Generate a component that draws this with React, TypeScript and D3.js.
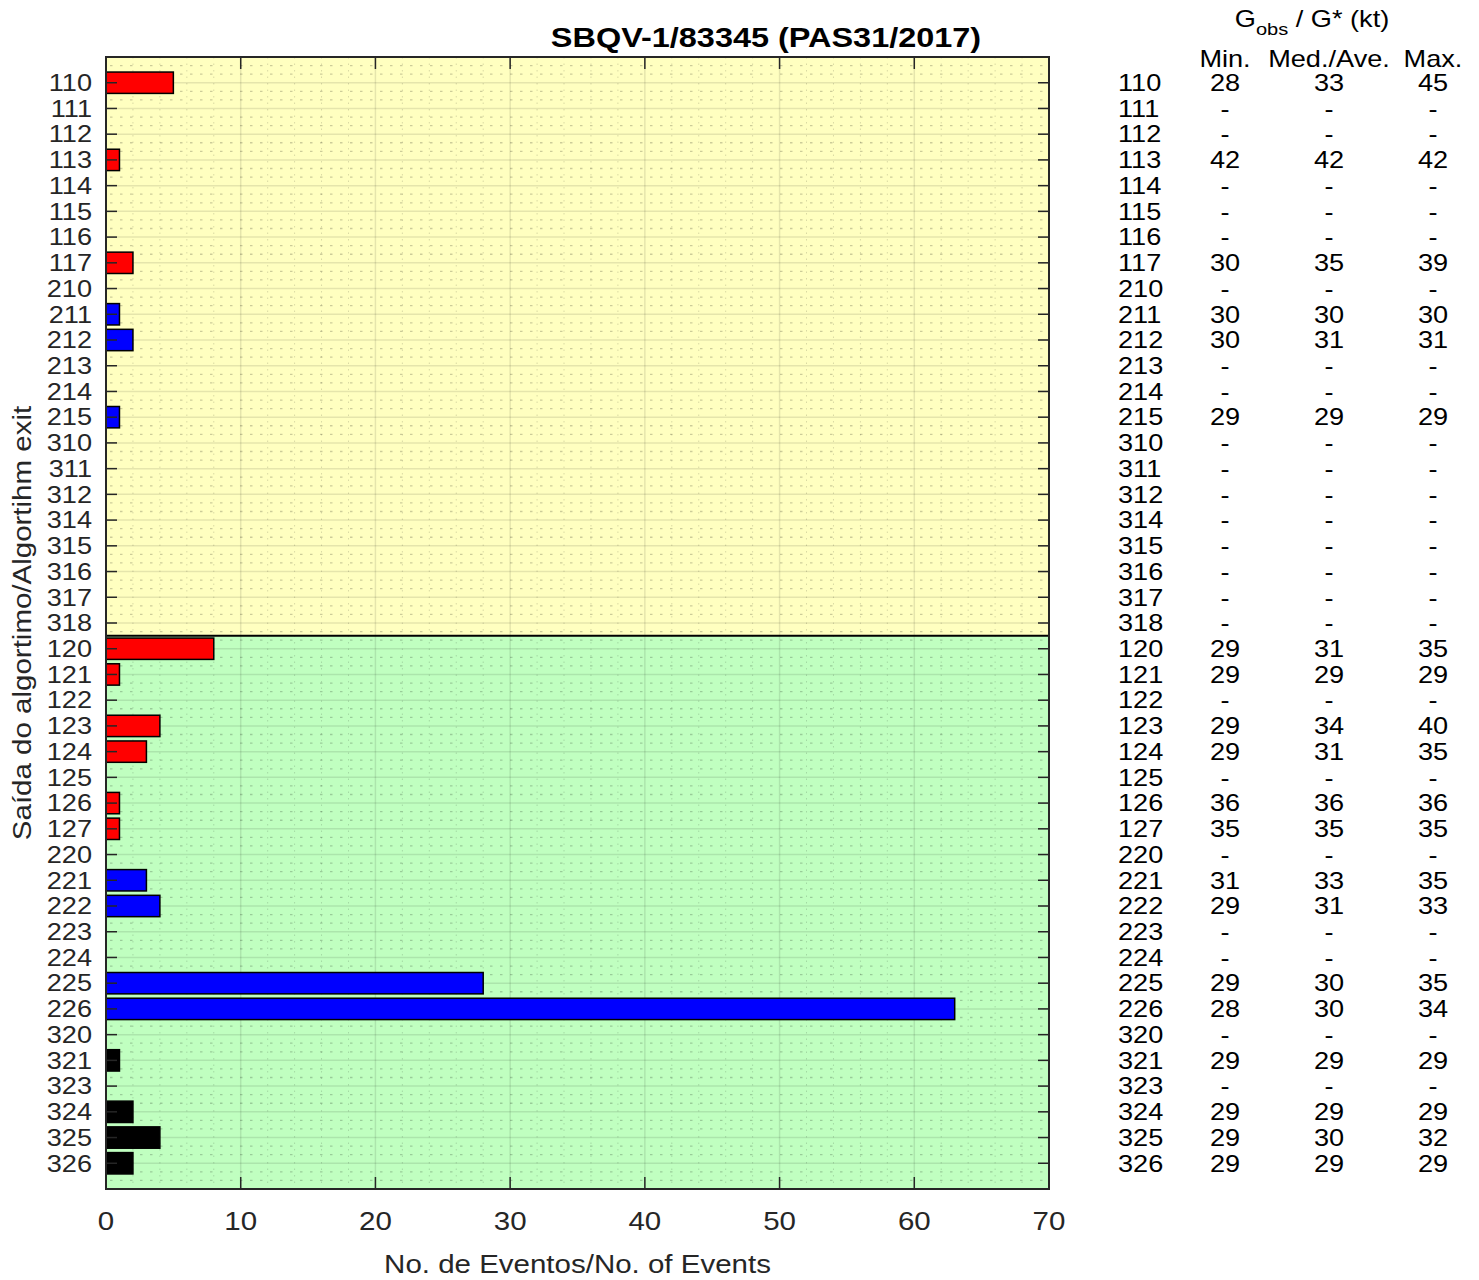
import { useRef, useEffect } from 'react';
import * as d3 from 'd3';

// Algorithm exit codes (top to bottom)
const codes = [
  '110', '111', '112', '113', '114', '115', '116', '117',
  '210', '211', '212', '213', '214', '215',
  '310', '311', '312', '314', '315', '316', '317', '318',
  '120', '121', '122', '123', '124', '125', '126', '127',
  '220', '221', '222', '223', '224', '225', '226',
  '320', '321', '323', '324', '325', '326',
];

// Number of events per exit
const counts = [
  5, 0, 0, 1, 0, 0, 0, 2,
  0, 1, 2, 0, 0, 1,
  0, 0, 0, 0, 0, 0, 0, 0,
  8, 1, 0, 4, 3, 0, 1, 1,
  0, 3, 4, 0, 0, 28, 63,
  0, 1, 0, 2, 4, 2,
];

// Gust stats (kt), null = '-'
const gMin = [
  28, null, null, 42, null, null, null, 30,
  null, 30, 30, null, null, 29,
  null, null, null, null, null, null, null, null,
  29, 29, null, 29, 29, null, 36, 35,
  null, 31, 29, null, null, 29, 28,
  null, 29, null, 29, 29, 29,
];
const gMed = [
  33, null, null, 42, null, null, null, 35,
  null, 30, 31, null, null, 29,
  null, null, null, null, null, null, null, null,
  31, 29, null, 34, 31, null, 36, 35,
  null, 33, 31, null, null, 30, 30,
  null, 29, null, 29, 30, 29,
];
const gMax = [
  45, null, null, 42, null, null, null, 39,
  null, 30, 31, null, null, 29,
  null, null, null, null, null, null, null, null,
  35, 29, null, 40, 35, null, 36, 35,
  null, 35, 33, null, null, 35, 34,
  null, 29, null, 29, 32, 29,
];

// Background bands: first code of each band
const bandStarts = ['110', '120'];
const bandColors = ['#ffffc0', '#c0ffc0'];

const xTicks = [0, 10, 20, 30, 40, 50, 60, 70];
const barColors: Record<string, string> = { '1': '#ff0000', '2': '#0000ff', '3': '#000000' };

const W = 1479;
const H = 1280;
const FONT = "'Liberation Sans', Arial, sans-serif";
const SX = 1.18; // text in the original is stretched horizontally

type Sel = d3.Selection<any, unknown, null, undefined>;

function label(parent: Sel, x: number, y: number, txt: string, size: number, anchor = 'start', fill = '#262626', rot = 0) {
  return parent.append('text')
    .attr('transform', `translate(${x},${y})${rot ? ` rotate(${rot})` : ''} scale(${SX},1)`)
    .attr('text-anchor', anchor)
    .attr('font-family', FONT)
    .attr('font-size', size)
    .attr('fill', fill)
    .text(txt);
}

export default function App() {
  const svgRef = useRef<SVGSVGElement>(null);

  useEffect(() => {
    const svg = d3.select(svgRef.current) as Sel;
    svg.selectAll('*').remove();

    const left = 106, right = 1049, top = 57, bottom = 1189;
    const x = d3.scaleLinear().domain([0, 70]).range([left, right]);
    const y = d3.scaleLinear().domain([-1, codes.length]).range([top, bottom]);
    const barH = (y(1) - y(0)) * 0.83;

    // background bands
    bandStarts.forEach((c, i) => {
      const i0 = codes.indexOf(c);
      const y0 = i === 0 ? top : y(i0 - 0.5);
      const y1 = i + 1 < bandStarts.length ? y(codes.indexOf(bandStarts[i + 1]) - 0.5) : bottom;
      svg.append('rect')
        .attr('x', left).attr('y', y0)
        .attr('width', right - left).attr('height', y1 - y0)
        .attr('fill', bandColors[i]);
    });

    const grid = svg.append('g');
    // minor dotted horizontal grid
    for (let i = -1; i < codes.length; i++) {
      for (const f of [1 / 3, 2 / 3]) {
        const yy = y(i + f);
        if (yy <= top + 1 || yy >= bottom - 1) continue;
        grid.append('line')
          .attr('x1', left + 4).attr('x2', right).attr('y1', yy).attr('y2', yy)
          .attr('stroke', 'rgba(0,0,0,0.2)').attr('stroke-width', 1.3)
          .attr('stroke-dasharray', '2.5,7.5');
      }
    }
    // minor dotted vertical grid
    d3.range(2, 70, 2).filter((v) => v % 10 !== 0).forEach((v) => {
      grid.append('line')
        .attr('x1', x(v)).attr('x2', x(v)).attr('y1', top).attr('y2', bottom)
        .attr('stroke', 'rgba(0,0,0,0.15)').attr('stroke-width', 1)
        .attr('stroke-dasharray', '1.5,5');
    });
    // major grid
    codes.forEach((_, i) => {
      grid.append('line')
        .attr('x1', left).attr('x2', right).attr('y1', y(i)).attr('y2', y(i))
        .attr('stroke', 'rgba(0,0,0,0.1)').attr('stroke-width', 1.5);
    });
    xTicks.slice(1, -1).forEach((v) => {
      grid.append('line')
        .attr('x1', x(v)).attr('x2', x(v)).attr('y1', top).attr('y2', bottom)
        .attr('stroke', 'rgba(0,0,0,0.1)').attr('stroke-width', 1.5);
    });

    // bars
    svg.append('g')
      .selectAll('rect')
      .data(codes.map((c, i) => ({ c, i, v: counts[i] })).filter((d) => d.v > 0))
      .join('rect')
      .attr('x', x(0))
      .attr('y', (d) => y(d.i) - barH / 2)
      .attr('width', (d) => x(d.v) - x(0))
      .attr('height', barH)
      .attr('fill', (d) => barColors[d.c[0]])
      .attr('stroke', '#000')
      .attr('stroke-width', 1.5);

    // band separator
    bandStarts.slice(1).forEach((c) => {
      const yy = y(codes.indexOf(c) - 0.5);
      svg.append('line')
        .attr('x1', left).attr('x2', right).attr('y1', yy).attr('y2', yy)
        .attr('stroke', '#000').attr('stroke-width', 2);
    });

    // ticks
    const tk = svg.append('g').attr('stroke', '#262626').attr('stroke-width', 1.5);
    codes.forEach((_, i) => {
      tk.append('line').attr('x1', left).attr('x2', left + 11).attr('y1', y(i)).attr('y2', y(i));
      tk.append('line').attr('x1', right).attr('x2', right - 11).attr('y1', y(i)).attr('y2', y(i));
    });
    xTicks.forEach((v) => {
      tk.append('line').attr('x1', x(v)).attr('x2', x(v)).attr('y1', bottom).attr('y2', bottom - 12);
      tk.append('line').attr('x1', x(v)).attr('x2', x(v)).attr('y1', top).attr('y2', top + 12);
    });

    // frame
    svg.append('rect')
      .attr('x', left).attr('y', top)
      .attr('width', right - left).attr('height', bottom - top)
      .attr('fill', 'none').attr('stroke', '#262626').attr('stroke-width', 2);

    // y tick labels
    codes.forEach((c, i) => {
      label(svg, 92, y(i) + 8.3, c, 23, 'end');
    });

    // x tick labels
    xTicks.forEach((v) => {
      label(svg, x(v), 1230, String(v), 25, 'middle');
    });

    // axis titles
    label(svg, (left + right) / 2, 1273, 'No. de Eventos/No. of Events', 25, 'middle');
    label(svg, 31, (top + bottom) / 2, 'Saída do algortimo/Algortihm exit', 25, 'middle', '#262626', -90);

    label(svg, 766, 47, 'SBQV-1/83345 (PAS31/2017)', 27.5, 'middle', '#000')
      .attr('font-weight', 'bold');

    // right-hand table
    const tbl = svg.append('g');
    const h = label(tbl, 1312, 27, '', 23, 'middle', '#000');
    h.append('tspan').text('G');
    h.append('tspan').attr('font-size', 17).attr('dy', 8).text('obs');
    h.append('tspan').attr('dy', -8).text(' / G* (kt)');
    const cols = [
      { x: 1225, label: 'Min.', vals: gMin },
      { x: 1329, label: 'Med./Ave.', vals: gMed },
      { x: 1433, label: 'Max.', vals: gMax },
    ];
    cols.forEach((col) => {
      label(tbl, col.x, 67, col.label, 23, 'middle', '#000');
      col.vals.forEach((v, i) => {
        label(tbl, col.x, y(i) + 8.3, v == null ? '-' : String(v), 23, 'middle', '#000');
      });
    });
    codes.forEach((c, i) => {
      label(tbl, 1118, y(i) + 8.3, c, 23, 'start', '#000');
    });
  }, []);

  return (
    <svg
      ref={svgRef}
      width={W}
      height={H}
      viewBox={`0 0 ${W} ${H}`}
      style={{ position: 'absolute', left: 0, top: 0, background: '#fff' }}
    />
  );
}
